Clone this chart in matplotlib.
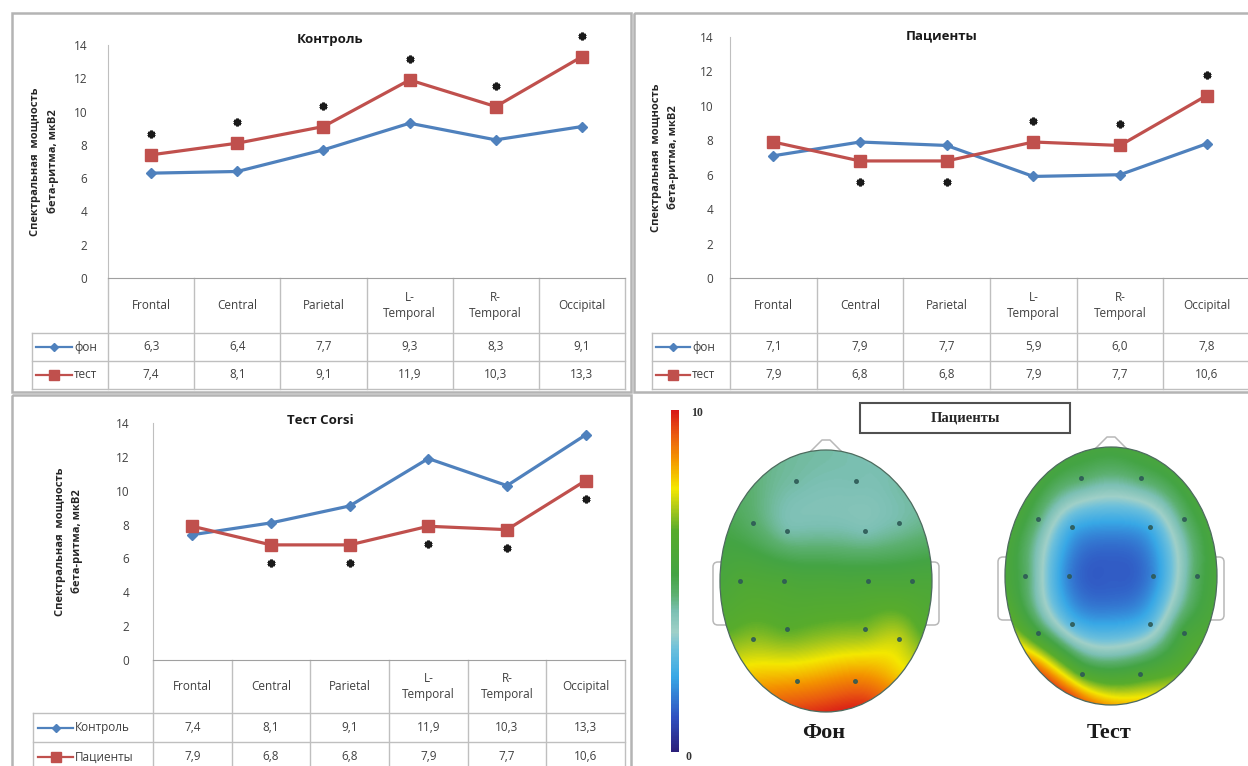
import numpy as np
import matplotlib
matplotlib.use('Agg')
import matplotlib.pyplot as plt
from matplotlib.colors import LinearSegmentedColormap, Normalize
from matplotlib.cm import ScalarMappable
from matplotlib.patches import Rectangle, Ellipse, Polygon, FancyBboxPatch
from matplotlib.transforms import ScaledTranslation

plt.rcParams['font.family'] = ['Open Sans', 'DejaVu Sans']

# ------------------------------------------------ DATA ------------------------------------------------

regions = ['Frontal', 'Central', 'Parietal', 'L-\nTemporal', 'R-\nTemporal', 'Occipital']

control_bg = [6.3, 6.4, 7.7, 9.3, 8.3, 9.1]
control_test = [7.4, 8.1, 9.1, 11.9, 10.3, 13.3]
patients_bg = [7.1, 7.9, 7.7, 5.9, 6.0, 7.8]
patients_test = [7.9, 6.8, 6.8, 7.9, 7.7, 10.6]
corsi_control = [7.4, 8.1, 9.1, 11.9, 10.3, 13.3]
corsi_patients = [7.9, 6.8, 6.8, 7.9, 7.7, 10.6]

# asterisks on the red series: 1 = above the point, -1 = below, 0 = none
control_stars = [1, 1, 1, 1, 1, 1]
patients_stars = [0, -1, -1, 1, 1, 1]
corsi_stars = [0, -1, -1, -1, -1, -1]

# electrode layout on the unit head (u to the right, v towards the back)
elec_u = [-0.28, 0.28, -0.69, -0.37, 0.37, 0.69, -0.81, -0.40, 0.40, 0.81, -0.69, -0.37, 0.37, 0.69, -0.27, 0.27]
elec_v = [-0.76, -0.76, -0.44, -0.38, -0.38, -0.44, 0.0, 0.0, 0.0, 0.0, 0.44, 0.37, 0.37, 0.44, 0.76, 0.76]
# Fz, Cz, Pz (used for the map, not drawn)
mid_u = [0.0, 0.0, 0.0]
mid_v = [-0.38, 0.0, 0.37]
# points on the scalp edge, degrees clockwise from the nose
rim_deg = [0, 22.5, 45, 67.5, 90, 112.5, 135, 157.5, 180, 202.5, 225, 247.5, 270, 292.5, 315, 337.5]

# beta power of patients, background (Фон)
bg_elec = [4.2, 4.1, 4.7, 4.2, 4.1, 4.2, 5.9, 5.8, 5.7, 5.7, 6.9, 6.5, 6.8, 7.3, 8.4, 8.8]
bg_mid = [4.2, 5.7, 6.7]
bg_rim = [4.2, 4.1, 4.2, 4.5, 5.7, 6.4, 7.9, 9.6, 9.8, 9.2, 8.0, 6.5, 5.6, 5.1, 4.6, 4.3]

# beta power of patients, Corsi test (Тест)
test_elec = [4.7, 4.7, 4.6, 2.4, 2.4, 4.6, 4.8, 1.7, 1.8, 4.8, 5.4, 2.7, 2.8, 5.4, 6.2, 5.9]
test_mid = [2.0, 1.2, 2.2]
test_rim = [5.4, 5.5, 5.5, 5.5, 5.6, 5.8, 6.4, 7.6, 8.4, 9.4, 9.0, 6.6, 5.7, 5.6, 5.5, 5.4]

# ------------------------------------------------ STYLE ------------------------------------------------

W, H = 1248, 766
BLUE = '#4f81bd'
RED = '#c0504d'
GRID = '#bfbfbf'
TXT = '#404040'

cmap = LinearSegmentedColormap.from_list('topo', [
    (0.00, '#2b1f7a'), (0.10, '#3050c0'), (0.22, '#38a8e6'), (0.30, '#6cc0dc'),
    (0.35, '#a0d0c8'), (0.41, '#7cc0b4'), (0.46, '#5cb070'), (0.52, '#44a444'),
    (0.65, '#58ac2c'), (0.72, '#b4cc18'), (0.77, '#f4e800'), (0.86, '#f49200'),
    (0.93, '#ea5a10'), (1.00, '#d81818')])

fig = plt.figure(figsize=(W / 100, H / 100), dpi=100)
fig.patch.set_facecolor('white')

# pixel-space layer for frames, tables and the head maps
bg = fig.add_axes([0, 0, 1, 1])
bg.set_xlim(0, W)
bg.set_ylim(H, 0)
bg.axis('off')


def fmt(v):
    return ('%.1f' % v).replace('.', ',')


def line_panel(series, names, stars, star_gap, title, title_xy, x_left, x_right,
               y_top, y_zero, rows, leg_left, leg_key, tick_pad, ylab_x):
    ax = fig.add_axes([x_left / W, 1 - y_zero / H, (x_right - x_left) / W, (y_zero - y_top) / H])
    ax.patch.set_alpha(0)
    x = np.arange(len(regions))
    ax.plot(x, series[0], color=BLUE, lw=2.3, marker='D', ms=5.5, zorder=3)
    ax.plot(x, series[1], color=RED, lw=2.3, marker='s', ms=8.5, zorder=3)
    ax.set_xlim(-0.5, len(regions) - 0.5)
    ax.set_ylim(0, 14)
    ax.set_yticks(range(0, 15, 2))
    ax.set_xticks([])
    ax.tick_params(axis='y', length=0, pad=tick_pad, labelsize=8.5, labelcolor=TXT)
    for s in ['top', 'right']:
        ax.spines[s].set_visible(False)
    ax.spines['left'].set_color(GRID)
    ax.spines['bottom'].set_color('#a0a0a0')

    for i, s in enumerate(stars):
        if s == 0:
            continue
        tr = ax.transData + ScaledTranslation(0, s * star_gap / 100, fig.dpi_scale_trans)
        ax.plot(i, series[1][i], marker=(6, 2, 0), ms=5.5, mew=2.0, color='#1a1a1a',
                transform=tr, clip_on=False, zorder=4)

    bg.text(title_xy[0], title_xy[1], title, fontsize=9.5, weight='bold',
            ha='center', va='center', color='#1a1a1a')
    ymid = y_top + (y_zero - y_top) * 0.5
    bg.text(ylab_x[0], ymid, 'Спектральная  мощность', rotation=90, fontsize=8, weight='bold',
            ha='center', va='center', color='#262626')
    bg.text(ylab_x[1], ymid, 'бета-ритма, мкВ2', rotation=90, fontsize=8, weight='bold',
            ha='center', va='center', color='#262626')

    # data table under the plot
    r0, r1, r2, r3 = rows
    cw = (x_right - x_left) / len(regions)
    for k in range(len(regions) + 1):
        bg.plot([x_left + k * cw] * 2, [r0, r3], color=GRID, lw=1)
    bg.plot([leg_left] * 2, [r1, r3], color=GRID, lw=1)
    for yy in (r1, r2, r3):
        bg.plot([leg_left, x_right], [yy, yy], color=GRID, lw=1)
    for i, lab in enumerate(regions):
        xc = x_left + (i + 0.5) * cw
        bg.text(xc, (r0 + r1) / 2, lab, fontsize=8.5, color=TXT, ha='center', va='center',
                linespacing=1.25)
        bg.text(xc, (r1 + r2) / 2, fmt(series[0][i]), fontsize=8.5, color=TXT, ha='center', va='center')
        bg.text(xc, (r2 + r3) / 2, fmt(series[1][i]), fontsize=8.5, color=TXT, ha='center', va='center')
    k0, k1 = leg_key
    for (ya, yb), col, mk, ms, nm in [((r1, r2), BLUE, 'D', 4, names[0]), ((r2, r3), RED, 's', 7, names[1])]:
        yc = (ya + yb) / 2
        bg.plot([k0, k1], [yc, yc], color=col, lw=1.6)
        bg.plot([(k0 + k1) / 2], [yc], marker=mk, ms=ms, color=col)
        bg.text(k1 + 2, yc, nm, fontsize=8.5, color=TXT, ha='left', va='center')


# panel frames
for (x0, y0, x1, y1) in [(12, 13, 631, 392), (634, 13, 1252, 392), (12, 395, 631, 772)]:
    bg.add_patch(Rectangle((x0, y0), x1 - x0, y1 - y0, fill=False, edgecolor='#b4b4b4', lw=1.8))

line_panel([control_bg, control_test], ['фон', 'тест'], control_stars, 21,
           'Контроль', (330, 40), 108, 625, 45, 278, (278, 333, 361, 389), 32, (36, 72), 15, (36, 53))
line_panel([patients_bg, patients_test], ['фон', 'тест'], patients_stars, 21,
           'Пациенты', (942, 36), 730, 1250, 37, 278, (278, 333, 361, 389), 652, (656, 690), 12, (656, 673))
line_panel([corsi_control, corsi_patients], ['Контроль', 'Пациенты'], corsi_stars, 18,
           'Тест Corsi', (320, 420), 153, 625, 423, 660, (660, 713, 742, 772), 33, (38, 73), 17, (60, 77))


# ------------------------------------------------ HEAD MAPS ------------------------------------------------

def tps(px, py, pv, qx, qy):
    # thin plate spline through the node values
    n = len(px)
    d = np.hypot(px[:, None] - px[None, :], py[:, None] - py[None, :])
    K = np.where(d > 0, d ** 2 * np.log(np.maximum(d, 1e-12)), 0.0)
    P = np.column_stack([np.ones(n), px, py])
    A = np.zeros((n + 3, n + 3))
    A[:n, :n] = K
    A[:n, n:] = P
    A[n:, :n] = P.T
    coef = np.linalg.solve(A, np.concatenate([pv, np.zeros(3)]))
    w, a = coef[:n], coef[n:]
    fx, fy = qx.ravel(), qy.ravel()
    dq = np.hypot(fx[:, None] - px[None, :], fy[:, None] - py[None, :])
    Kq = np.where(dq > 0, dq ** 2 * np.log(np.maximum(dq, 1e-12)), 0.0)
    z = Kq @ w + a[0] + a[1] * fx + a[2] * fy
    return z.reshape(qx.shape)


rim_rad = np.radians(rim_deg)
node_u = np.concatenate([elec_u, mid_u, np.sin(rim_rad)])
node_v = np.concatenate([elec_v, mid_v, -np.cos(rim_rad)])
GU, GV = np.meshgrid(np.linspace(-1, 1, 240), np.linspace(-1, 1, 300))


def head(cx, cy, hw, hh, elec, mid, rim, label):
    vals = np.concatenate([elec, mid, rim]).astype(float)
    Z = tps(node_u, node_v, vals, GU, GV)

    # ears and nose behind the scalp
    for ex in (cx - hw - 7, cx + hw - 13):
        bg.add_patch(FancyBboxPatch((ex, cy - 19), 20, 63, boxstyle='round,pad=0,rounding_size=5',
                                    facecolor='white', edgecolor='#b8b8b8', lw=1.1, zorder=2))
    bg.add_patch(Polygon([(cx - 18, cy - hh + 4), (cx - 4, cy - hh - 10), (cx + 4, cy - hh - 10),
                          (cx + 18, cy - hh + 4)], closed=True, facecolor='white',
                         edgecolor='#b8b8b8', lw=1.1, zorder=2, joinstyle='round'))

    scalp = Ellipse((cx, cy), 2 * hw, 2 * hh, facecolor='none', edgecolor='#4d6b5e', lw=0.9, zorder=4)
    bg.add_patch(scalp)
    im = bg.imshow(Z, cmap=cmap, vmin=0, vmax=10, extent=(cx - hw, cx + hw, cy + hh, cy - hh),
                   origin='upper', interpolation='bilinear', aspect='auto', zorder=3)
    im.set_clip_path(scalp)
    bg.plot(cx + np.array(elec_u) * hw, cy + np.array(elec_v) * hh, 'o', ms=2.6,
            color='#2e5a56', alpha=0.85, zorder=5)
    bg.text(cx - 2, 733, label, fontsize=16, family='Liberation Serif', weight='bold',
            ha='center', va='center', color='#1a1a1a')


head(826, 581, 106, 131, bg_elec, bg_mid, bg_rim, 'Фон')
head(1111, 576, 106, 129, test_elec, test_mid, test_rim, 'Тест')

bg.add_patch(Rectangle((860, 403), 210, 30, fill=False, edgecolor='#505050', lw=1.5))
bg.text(965, 418, 'Пациенты', fontsize=10.5, family='Liberation Serif', weight='bold',
        ha='center', va='center', color='#262626')

cax = fig.add_axes([671 / W, 1 - 752 / H, 8 / W, 342 / H])
cb = fig.colorbar(ScalarMappable(Normalize(0, 10), cmap), cax=cax)
cb.set_ticks([])
cb.outline.set_visible(False)
bg.text(691, 413, '10', fontsize=8.5, family='Liberation Serif', weight='bold', ha='left', va='center', color='#333333')
bg.text(686, 757, '0', fontsize=8.5, family='Liberation Serif', weight='bold', ha='left', va='center', color='#333333')

bg.set_xlim(0, W)
bg.set_ylim(H, 0)

fig.savefig('out.png', dpi=100)
